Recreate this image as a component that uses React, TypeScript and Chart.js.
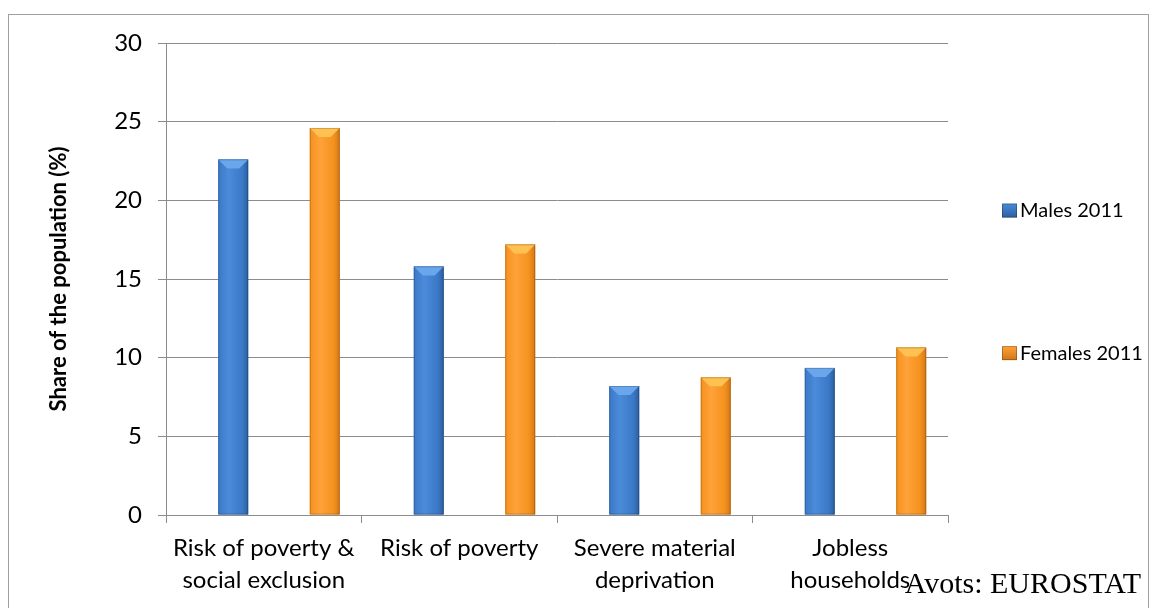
import { useEffect, useRef } from "react";
import { Chart, registerables } from "chart.js";

Chart.register(...registerables);

const categories: string[][] = [
  ["Risk of poverty &", "social exclusion"],
  ["Risk of poverty"],
  ["Severe material", "deprivation"],
  ["Jobless", "households"],
];
const males2011 = [22.6, 15.8, 8.2, 9.35];
const females2011 = [24.6, 17.2, 8.75, 10.65];
const seriesLabels = ["Males 2011", "Females 2011"];
const yMin = 0;
const yMax = 30;
const yStep = 5;
const yAxisTitle = "Share of the population (%)";
const sourceNote = "Avots: EUROSTAT";

const FONT = "Lato, 'Open Sans', sans-serif";
const BLUE = { base: "#3b79c7", light: "#4b8bd9", dark: "#2c5f9f", bevel: "#6aa6ec" };
const ORANGE = { base: "#f5921e", light: "#ffa23a", dark: "#d2771a", bevel: "#ffc152" };

const empty = categories.map(() => null);

function paintBar(ctx: CanvasRenderingContext2D, el: any, pal: typeof BLUE) {
  const w = el.width;
  const left = el.x - w / 2;
  const top = Math.min(el.y, el.base);
  const h = Math.abs(el.base - el.y);
  const g = ctx.createLinearGradient(left, 0, left + w, 0);
  g.addColorStop(0, pal.base);
  g.addColorStop(0.35, pal.light);
  g.addColorStop(0.8, pal.base);
  g.addColorStop(1, pal.dark);
  ctx.fillStyle = g;
  ctx.fillRect(left, top, w, h);
  const bev = Math.min(9, h / 2);
  ctx.fillStyle = pal.bevel;
  ctx.beginPath();
  ctx.moveTo(left, top);
  ctx.lineTo(left + w, top);
  ctx.lineTo(left + w - bev, top + bev);
  ctx.lineTo(left + bev, top + bev);
  ctx.closePath();
  ctx.fill();
  ctx.strokeStyle = "rgba(0,0,0,0.18)";
  ctx.lineWidth = 1;
  ctx.strokeRect(left + 0.5, top + 0.5, w - 1, h - 1);
}

const barStylePlugin = {
  id: "barStyle",
  afterDatasetsDraw(chart: any) {
    const ctx = chart.ctx;
    ctx.save();
    chart.data.datasets.forEach((ds: any, i: number) => {
      if (!ds.palette) return;
      chart.getDatasetMeta(i).data.forEach((el: any) => paintBar(ctx, el, ds.palette));
    });
    ctx.restore();
  },
};

const sideLegendPlugin = {
  id: "sideLegend",
  afterDraw(chart: any) {
    const ctx = chart.ctx;
    const area = chart.chartArea;
    const rows = [0.355, 0.657];
    let r = 0;
    ctx.save();
    chart.data.datasets.forEach((ds: any) => {
      if (!ds.palette) return;
      const cy = area.top + rows[r++] * (area.bottom - area.top);
      const bx = area.right + 54;
      const g = ctx.createLinearGradient(0, cy - 7, 0, cy + 7);
      g.addColorStop(0, ds.palette.light);
      g.addColorStop(1, ds.palette.dark);
      ctx.fillStyle = g;
      ctx.fillRect(bx, cy - 7, 15, 14);
      ctx.strokeStyle = "rgba(0,0,0,0.25)";
      ctx.strokeRect(bx + 0.5, cy - 6.5, 14, 13);
      ctx.fillStyle = "#000";
      ctx.font = `20px ${FONT}`;
      ctx.textBaseline = "middle";
      ctx.textAlign = "left";
      ctx.fillText(ds.label, bx + 18, cy);
    });
    ctx.restore();
  },
};

export default function App() {
  const ref = useRef<HTMLCanvasElement | null>(null);

  useEffect(() => {
    if (!ref.current) return;
    const chart = new Chart(ref.current, {
      type: "bar",
      data: {
        labels: categories,
        datasets: [
          { label: "", data: empty },
          { label: seriesLabels[0], data: males2011, backgroundColor: BLUE.base, palette: BLUE } as any,
          { label: "", data: empty },
          { label: "", data: empty },
          { label: seriesLabels[1], data: females2011, backgroundColor: ORANGE.base, palette: ORANGE } as any,
        ],
      },
      options: {
        animation: false,
        responsive: true,
        maintainAspectRatio: false,
        categoryPercentage: 0.78,
        barPercentage: 0.98,
        layout: { padding: { top: 43, right: 202, left: 0, bottom: 0 } },
        plugins: { legend: { display: false }, tooltip: { enabled: false } },
        scales: {
          x: {
            grid: {
              display: true,
              drawOnChartArea: false,
              drawTicks: true,
              tickLength: 8,
              color: "#8c8c8c",
              offset: true,
            },
            border: { display: true, color: "#8c8c8c", width: 1 },
            ticks: {
              color: "#000",
              padding: 9,
              maxRotation: 0,
              autoSkip: false,
              font: { family: FONT, size: 24, lineHeight: 1.34 },
            },
            afterFit: (s: any) => {
              s.height = 93;
            },
          },
          y: {
            min: yMin,
            max: yMax,
            grid: { color: "#8c8c8c", lineWidth: 1, tickLength: 8, drawTicks: true },
            border: { display: true, color: "#8c8c8c", width: 1 },
            ticks: {
              stepSize: yStep,
              color: "#000",
              padding: 16,
              font: { family: FONT, size: 24 },
            },
            title: {
              display: true,
              text: yAxisTitle,
              color: "#000",
              font: { family: FONT, size: 22, weight: "bold" },
              padding: { top: 46, bottom: 0 },
            },
            afterFit: (s: any) => {
              s.width = 166;
            },
          },
        },
      },
      plugins: [barStylePlugin, sideLegendPlugin],
    } as any);
    return () => chart.destroy();
  }, []);

  return (
    <div style={{ position: "fixed", left: 0, top: 0, width: 1150, height: 608, background: "#fff", overflow: "hidden" }}>
      <div
        style={{
          position: "absolute",
          left: 8,
          top: 14,
          width: 1141,
          height: 700,
          border: "1px solid #a0a0a0",
          boxSizing: "border-box",
        }}
      />
      <canvas ref={ref} style={{ position: "absolute", left: 0, top: 0, width: 1150, height: 608 }} />
      <div
        style={{
          position: "absolute",
          right: 9,
          top: 566,
          fontFamily: "'Liberation Serif', 'Times New Roman', serif",
          fontSize: 30,
          lineHeight: "34px",
          color: "#000",
          whiteSpace: "nowrap",
        }}
      >
        {sourceNote}
      </div>
    </div>
  );
}
